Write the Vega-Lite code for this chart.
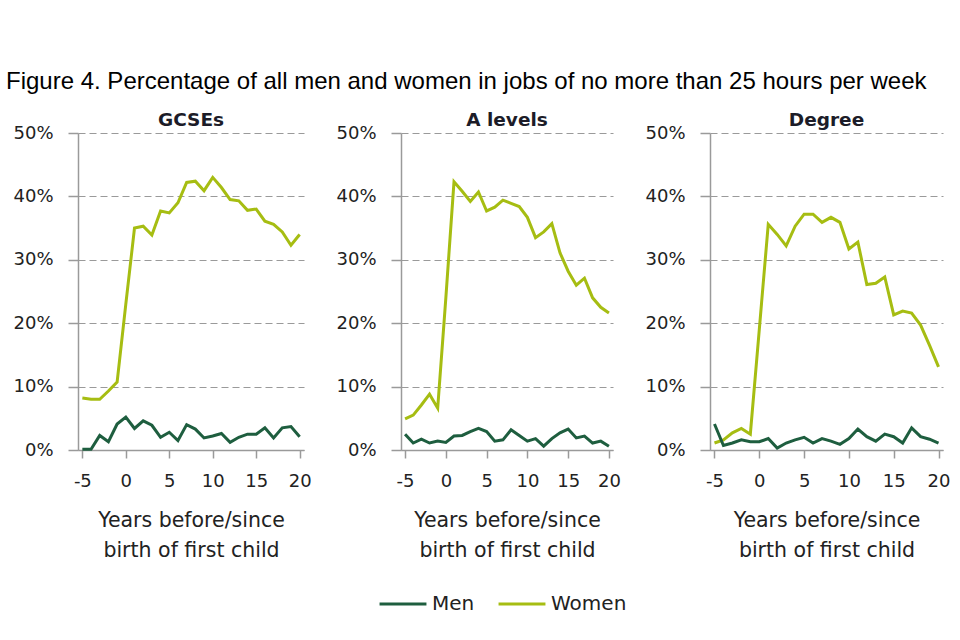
{
  "$schema": "https://vega.github.io/schema/vega-lite/v6.json",
  "padding": {"left": 5, "top": 69, "right": 5, "bottom": 5},
  "background": "white",
  "bounds": "flush",
  "title": {
    "text": "Figure 4. Percentage of all men and women in jobs of no more than 25 hours per week",
    "font": "Liberation Sans",
    "fontSize": 24,
    "fontWeight": "normal",
    "color": "#000000",
    "anchor": "start",
    "dx": -7,
    "offset": 17
  },
  "datasets": {
    "d": [
      {"panel":"GCSEs","sex":"Women","year":-5,"pct":8.2},
      {"panel":"GCSEs","sex":"Women","year":-4,"pct":8.0},
      {"panel":"GCSEs","sex":"Women","year":-3,"pct":8.0},
      {"panel":"GCSEs","sex":"Women","year":-2,"pct":9.3},
      {"panel":"GCSEs","sex":"Women","year":-1,"pct":10.7},
      {"panel":"GCSEs","sex":"Women","year":0,"pct":23.0},
      {"panel":"GCSEs","sex":"Women","year":1,"pct":35.0},
      {"panel":"GCSEs","sex":"Women","year":2,"pct":35.3},
      {"panel":"GCSEs","sex":"Women","year":3,"pct":33.9},
      {"panel":"GCSEs","sex":"Women","year":4,"pct":37.7},
      {"panel":"GCSEs","sex":"Women","year":5,"pct":37.4},
      {"panel":"GCSEs","sex":"Women","year":6,"pct":39.0},
      {"panel":"GCSEs","sex":"Women","year":7,"pct":42.2},
      {"panel":"GCSEs","sex":"Women","year":8,"pct":42.4},
      {"panel":"GCSEs","sex":"Women","year":9,"pct":40.9},
      {"panel":"GCSEs","sex":"Women","year":10,"pct":43.0},
      {"panel":"GCSEs","sex":"Women","year":11,"pct":41.4},
      {"panel":"GCSEs","sex":"Women","year":12,"pct":39.5},
      {"panel":"GCSEs","sex":"Women","year":13,"pct":39.3},
      {"panel":"GCSEs","sex":"Women","year":14,"pct":37.8},
      {"panel":"GCSEs","sex":"Women","year":15,"pct":38.0},
      {"panel":"GCSEs","sex":"Women","year":16,"pct":36.1},
      {"panel":"GCSEs","sex":"Women","year":17,"pct":35.6},
      {"panel":"GCSEs","sex":"Women","year":18,"pct":34.4},
      {"panel":"GCSEs","sex":"Women","year":19,"pct":32.3},
      {"panel":"GCSEs","sex":"Women","year":20,"pct":34.0},
      {"panel":"GCSEs","sex":"Men","year":-5,"pct":0.1},
      {"panel":"GCSEs","sex":"Men","year":-4,"pct":0.1},
      {"panel":"GCSEs","sex":"Men","year":-3,"pct":2.3},
      {"panel":"GCSEs","sex":"Men","year":-2,"pct":1.3},
      {"panel":"GCSEs","sex":"Men","year":-1,"pct":4.1},
      {"panel":"GCSEs","sex":"Men","year":0,"pct":5.2},
      {"panel":"GCSEs","sex":"Men","year":1,"pct":3.4},
      {"panel":"GCSEs","sex":"Men","year":2,"pct":4.6},
      {"panel":"GCSEs","sex":"Men","year":3,"pct":3.9},
      {"panel":"GCSEs","sex":"Men","year":4,"pct":2.0},
      {"panel":"GCSEs","sex":"Men","year":5,"pct":2.8},
      {"panel":"GCSEs","sex":"Men","year":6,"pct":1.5},
      {"panel":"GCSEs","sex":"Men","year":7,"pct":4.0},
      {"panel":"GCSEs","sex":"Men","year":8,"pct":3.3},
      {"panel":"GCSEs","sex":"Men","year":9,"pct":1.9},
      {"panel":"GCSEs","sex":"Men","year":10,"pct":2.2},
      {"panel":"GCSEs","sex":"Men","year":11,"pct":2.6},
      {"panel":"GCSEs","sex":"Men","year":12,"pct":1.2},
      {"panel":"GCSEs","sex":"Men","year":13,"pct":2.0},
      {"panel":"GCSEs","sex":"Men","year":14,"pct":2.5},
      {"panel":"GCSEs","sex":"Men","year":15,"pct":2.5},
      {"panel":"GCSEs","sex":"Men","year":16,"pct":3.5},
      {"panel":"GCSEs","sex":"Men","year":17,"pct":1.9},
      {"panel":"GCSEs","sex":"Men","year":18,"pct":3.5},
      {"panel":"GCSEs","sex":"Men","year":19,"pct":3.7},
      {"panel":"GCSEs","sex":"Men","year":20,"pct":2.1},
      {"panel":"A levels","sex":"Women","year":-5,"pct":4.9},
      {"panel":"A levels","sex":"Women","year":-4,"pct":5.5},
      {"panel":"A levels","sex":"Women","year":-3,"pct":7.1},
      {"panel":"A levels","sex":"Women","year":-2,"pct":8.8},
      {"panel":"A levels","sex":"Women","year":-1,"pct":6.6},
      {"panel":"A levels","sex":"Women","year":0,"pct":24.0},
      {"panel":"A levels","sex":"Women","year":1,"pct":42.3},
      {"panel":"A levels","sex":"Women","year":2,"pct":40.8},
      {"panel":"A levels","sex":"Women","year":3,"pct":39.2},
      {"panel":"A levels","sex":"Women","year":4,"pct":40.7},
      {"panel":"A levels","sex":"Women","year":5,"pct":37.7},
      {"panel":"A levels","sex":"Women","year":6,"pct":38.3},
      {"panel":"A levels","sex":"Women","year":7,"pct":39.4},
      {"panel":"A levels","sex":"Women","year":8,"pct":38.9},
      {"panel":"A levels","sex":"Women","year":9,"pct":38.4},
      {"panel":"A levels","sex":"Women","year":10,"pct":36.7},
      {"panel":"A levels","sex":"Women","year":11,"pct":33.5},
      {"panel":"A levels","sex":"Women","year":12,"pct":34.4},
      {"panel":"A levels","sex":"Women","year":13,"pct":35.7},
      {"panel":"A levels","sex":"Women","year":14,"pct":31.1},
      {"panel":"A levels","sex":"Women","year":15,"pct":28.2},
      {"panel":"A levels","sex":"Women","year":16,"pct":26.0},
      {"panel":"A levels","sex":"Women","year":17,"pct":27.1},
      {"panel":"A levels","sex":"Women","year":18,"pct":24.0},
      {"panel":"A levels","sex":"Women","year":19,"pct":22.5},
      {"panel":"A levels","sex":"Women","year":20,"pct":21.6},
      {"panel":"A levels","sex":"Men","year":-5,"pct":2.5},
      {"panel":"A levels","sex":"Men","year":-4,"pct":1.1},
      {"panel":"A levels","sex":"Men","year":-3,"pct":1.7},
      {"panel":"A levels","sex":"Men","year":-2,"pct":1.1},
      {"panel":"A levels","sex":"Men","year":-1,"pct":1.4},
      {"panel":"A levels","sex":"Men","year":0,"pct":1.2},
      {"panel":"A levels","sex":"Men","year":1,"pct":2.2},
      {"panel":"A levels","sex":"Men","year":2,"pct":2.3},
      {"panel":"A levels","sex":"Men","year":3,"pct":2.9},
      {"panel":"A levels","sex":"Men","year":4,"pct":3.4},
      {"panel":"A levels","sex":"Men","year":5,"pct":2.9},
      {"panel":"A levels","sex":"Men","year":6,"pct":1.4},
      {"panel":"A levels","sex":"Men","year":7,"pct":1.6},
      {"panel":"A levels","sex":"Men","year":8,"pct":3.2},
      {"panel":"A levels","sex":"Men","year":9,"pct":2.3},
      {"panel":"A levels","sex":"Men","year":10,"pct":1.4},
      {"panel":"A levels","sex":"Men","year":11,"pct":1.8},
      {"panel":"A levels","sex":"Men","year":12,"pct":0.6},
      {"panel":"A levels","sex":"Men","year":13,"pct":1.8},
      {"panel":"A levels","sex":"Men","year":14,"pct":2.7},
      {"panel":"A levels","sex":"Men","year":15,"pct":3.3},
      {"panel":"A levels","sex":"Men","year":16,"pct":1.9},
      {"panel":"A levels","sex":"Men","year":17,"pct":2.2},
      {"panel":"A levels","sex":"Men","year":18,"pct":1.1},
      {"panel":"A levels","sex":"Men","year":19,"pct":1.4},
      {"panel":"A levels","sex":"Men","year":20,"pct":0.6},
      {"panel":"Degree","sex":"Women","year":-5,"pct":1.1},
      {"panel":"Degree","sex":"Women","year":-4,"pct":1.6},
      {"panel":"Degree","sex":"Women","year":-3,"pct":2.7},
      {"panel":"Degree","sex":"Women","year":-2,"pct":3.4},
      {"panel":"Degree","sex":"Women","year":-1,"pct":2.5},
      {"panel":"Degree","sex":"Women","year":0,"pct":19.0},
      {"panel":"Degree","sex":"Women","year":1,"pct":35.6},
      {"panel":"Degree","sex":"Women","year":2,"pct":34.0},
      {"panel":"Degree","sex":"Women","year":3,"pct":32.2},
      {"panel":"Degree","sex":"Women","year":4,"pct":35.3},
      {"panel":"Degree","sex":"Women","year":5,"pct":37.2},
      {"panel":"Degree","sex":"Women","year":6,"pct":37.2},
      {"panel":"Degree","sex":"Women","year":7,"pct":35.9},
      {"panel":"Degree","sex":"Women","year":8,"pct":36.7},
      {"panel":"Degree","sex":"Women","year":9,"pct":35.9},
      {"panel":"Degree","sex":"Women","year":10,"pct":31.7},
      {"panel":"Degree","sex":"Women","year":11,"pct":32.8},
      {"panel":"Degree","sex":"Women","year":12,"pct":26.1},
      {"panel":"Degree","sex":"Women","year":13,"pct":26.3},
      {"panel":"Degree","sex":"Women","year":14,"pct":27.3},
      {"panel":"Degree","sex":"Women","year":15,"pct":21.3},
      {"panel":"Degree","sex":"Women","year":16,"pct":21.9},
      {"panel":"Degree","sex":"Women","year":17,"pct":21.6},
      {"panel":"Degree","sex":"Women","year":18,"pct":19.7},
      {"panel":"Degree","sex":"Women","year":19,"pct":16.5},
      {"panel":"Degree","sex":"Women","year":20,"pct":13.1},
      {"panel":"Degree","sex":"Men","year":-5,"pct":4.1},
      {"panel":"Degree","sex":"Men","year":-4,"pct":0.7},
      {"panel":"Degree","sex":"Men","year":-3,"pct":1.1},
      {"panel":"Degree","sex":"Men","year":-2,"pct":1.6},
      {"panel":"Degree","sex":"Men","year":-1,"pct":1.3},
      {"panel":"Degree","sex":"Men","year":0,"pct":1.3},
      {"panel":"Degree","sex":"Men","year":1,"pct":1.8},
      {"panel":"Degree","sex":"Men","year":2,"pct":0.3},
      {"panel":"Degree","sex":"Men","year":3,"pct":1.1},
      {"panel":"Degree","sex":"Men","year":4,"pct":1.6},
      {"panel":"Degree","sex":"Men","year":5,"pct":2.0},
      {"panel":"Degree","sex":"Men","year":6,"pct":1.1},
      {"panel":"Degree","sex":"Men","year":7,"pct":1.8},
      {"panel":"Degree","sex":"Men","year":8,"pct":1.4},
      {"panel":"Degree","sex":"Men","year":9,"pct":0.9},
      {"panel":"Degree","sex":"Men","year":10,"pct":1.8},
      {"panel":"Degree","sex":"Men","year":11,"pct":3.3},
      {"panel":"Degree","sex":"Men","year":12,"pct":2.1},
      {"panel":"Degree","sex":"Men","year":13,"pct":1.4},
      {"panel":"Degree","sex":"Men","year":14,"pct":2.5},
      {"panel":"Degree","sex":"Men","year":15,"pct":2.1},
      {"panel":"Degree","sex":"Men","year":16,"pct":1.1},
      {"panel":"Degree","sex":"Men","year":17,"pct":3.5},
      {"panel":"Degree","sex":"Men","year":18,"pct":2.1},
      {"panel":"Degree","sex":"Men","year":19,"pct":1.7},
      {"panel":"Degree","sex":"Men","year":20,"pct":1.1}
    ]
  },
  "data": {"name": "d"},
  "spacing": 97,
  "hconcat": [
    {
      "width": 226, "height": 317,
      "title": "GCSEs",
      "transform": [{"filter": "datum.panel === 'GCSEs'"}],
      "mark": {"type": "line", "strokeWidth": 3},
      "encoding": {
        "x": {"field": "year", "type": "quantitative", "scale": {"domain": [-5.5, 20.5], "nice": false, "zero": false}, "axis": {"values": [-5, 0, 5, 10, 15, 20], "labelExpr": "'' + datum.value"}, "title": ["Years before/since", "birth of first child"]},
        "y": {"field": "pct", "type": "quantitative", "scale": {"domain": [0, 50], "nice": false}, "axis": {"values": [0, 10, 20, 30, 40, 50], "labelExpr": "datum.value + '%'"}, "title": null},
        "color": {"field": "sex", "type": "nominal", "scale": {"domain": ["Men", "Women"], "range": ["#1e5e3f", "#a6bd12"]}, "legend": null}
      }
    },
    {
      "width": 212, "height": 317,
      "title": "A levels",
      "transform": [{"filter": "datum.panel === 'A levels'"}],
      "mark": {"type": "line", "strokeWidth": 3},
      "encoding": {
        "x": {"field": "year", "type": "quantitative", "scale": {"domain": [-5.5, 20.5], "nice": false, "zero": false}, "axis": {"values": [-5, 0, 5, 10, 15, 20], "labelExpr": "'' + datum.value"}, "title": ["Years before/since", "birth of first child"]},
        "y": {"field": "pct", "type": "quantitative", "scale": {"domain": [0, 50], "nice": false}, "axis": {"values": [0, 10, 20, 30, 40, 50], "labelExpr": "datum.value + '%'"}, "title": null},
        "color": {"field": "sex", "type": "nominal", "scale": {"domain": ["Men", "Women"], "range": ["#1e5e3f", "#a6bd12"]}, "legend": {"orient": "none", "legendX": -23, "legendY": 446, "direction": "horizontal", "title": null}}
      }
    },
    {
      "width": 233, "height": 317,
      "title": "Degree",
      "transform": [{"filter": "datum.panel === 'Degree'"}],
      "mark": {"type": "line", "strokeWidth": 3},
      "encoding": {
        "x": {"field": "year", "type": "quantitative", "scale": {"domain": [-5.5, 20.5], "nice": false, "zero": false}, "axis": {"values": [-5, 0, 5, 10, 15, 20], "labelExpr": "'' + datum.value"}, "title": ["Years before/since", "birth of first child"]},
        "y": {"field": "pct", "type": "quantitative", "scale": {"domain": [0, 50], "nice": false}, "axis": {"values": [0, 10, 20, 30, 40, 50], "labelExpr": "datum.value + '%'"}, "title": null},
        "color": {"field": "sex", "type": "nominal", "scale": {"domain": ["Men", "Women"], "range": ["#1e5e3f", "#a6bd12"]}, "legend": null}
      }
    }
  ],
  "resolve": {"scale": {"color": "shared"}, "legend": {"color": "independent"}},
  "config": {
    "font": "DejaVu Sans",
    "view": {"stroke": null},
    "title": {"fontSize": 18.5, "fontWeight": "bold", "color": "#1c1c28", "offset": -5, "font": "DejaVu Sans"},
    "axis": {
      "labelFont": "DejaVu Sans",
      "labelFontSize": 18,
      "labelColor": "#222222",
      "titleFont": "DejaVu Sans",
      "titleFontSize": 20.5,
      "titleFontWeight": "normal",
      "titleColor": "#222222",
      "domainColor": "#9a9a9a",
      "domainWidth": 1.5,
      "tickColor": "#9a9a9a",
      "tickWidth": 1.5
    },
    "axisX": {"grid": false, "tickSize": 8, "labelPadding": 14, "titlePadding": 20, "titleLineHeight": 30},
    "axisY": {"grid": true, "gridColor": "#9a9a9a", "gridWidth": 1.2, "gridDash": [7, 4], "tickSize": 10, "labelPadding": 15},
    "legend": {
      "symbolType": "stroke",
      "symbolSize": 2200,
      "symbolStrokeWidth": 3,
      "labelFont": "DejaVu Sans",
      "labelFontSize": 20,
      "labelColor": "#222222",
      "labelOffset": 4,
      "columnPadding": 17
    }
  }
}
